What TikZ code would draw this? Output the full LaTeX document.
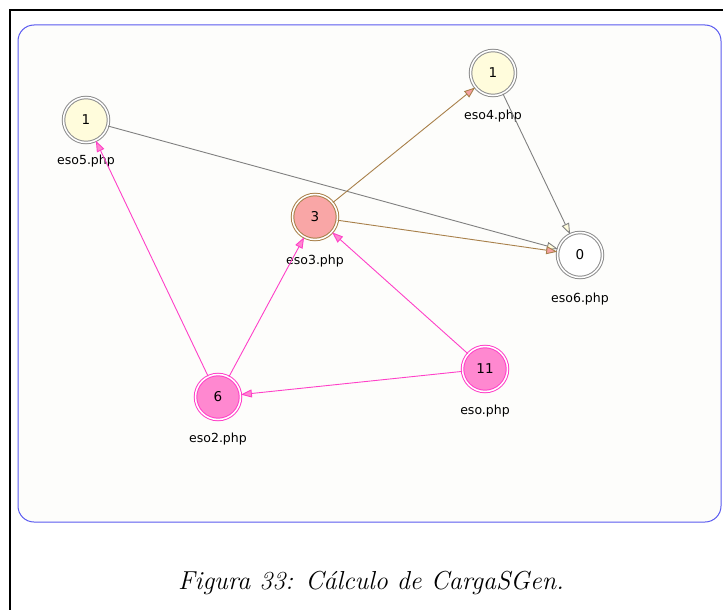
\documentclass[tikz,border=0pt]{standalone}
\usepackage{fontspec}
\newfontfamily\nodefont{DejaVu Sans}
\usetikzlibrary{arrows.meta}
\definecolor{framebl}{HTML}{5A5AF0}
\definecolor{bgpaper}{HTML}{FDFDFB}
\definecolor{yfill}{HTML}{FFFCDC}
\definecolor{gline}{HTML}{808080}
\definecolor{bline}{HTML}{A8804A}
\definecolor{mline}{HTML}{FF40C8}
\definecolor{pfill}{HTML}{F9A6A6}
\definecolor{mfill}{HTML}{FF88D0}
\definecolor{afill}{HTML}{F4A0A0}
\tikzset{
  x=1pt, y=-1pt,
  vtx/.style={circle, minimum size=45pt, inner sep=0pt, line width=1pt,
    double distance=1.5pt, font=\nodefont\fontsize{13.5}{15}\selectfont},
  yv/.style={vtx, draw=gline!90, double=white, fill=yfill},
  wv/.style={vtx, draw=gline!90, double=white, fill=white},
  pv/.style={vtx, draw=bline, double=white, fill=pfill},
  mv/.style={vtx, draw=mline, double=white, fill=mfill},
  lbl/.style={font=\nodefont\fontsize{12.5}{14}\selectfont},
  gedge/.style={draw=gline, line width=0.9pt, -{Triangle[length=11pt,width=8pt,fill=yfill]}},
  bedge/.style={draw=bline, line width=0.9pt, -{Triangle[length=11pt,width=8pt,fill=afill]}},
  medge/.style={draw=mline, line width=0.9pt, -{Triangle[length=11pt,width=8pt,fill=mfill]}},
}
\begin{document}
\begin{tikzpicture}
\useasboundingbox (0,0) rectangle (723,610);
\fill[white] (0,0) rectangle (723,610);
\draw[black, line width=2pt] (10,612) -- (10,10) -- (725,10);
\draw[framebl, line width=1pt, fill=bgpaper, rounded corners=16pt] (18,25) rectangle (721,522);

\node[yv] (eso5) at (86,120) {1};
\node[yv] (eso4) at (493,73) {1};
\node[pv] (eso3) at (315,217) {3};
\node[wv] (eso6) at (580,255) {0};
\node[mv] (eso2) at (218,397) {6};
\node[mv] (eso) at (485,369) {11};

\node[lbl] (l5) at (86,161) {eso5.php};
\node[lbl] (l4) at (493,116) {eso4.php};
\node[lbl] (l3) at (315,261) {eso3.php};
\node[lbl] (l6) at (580,299) {eso6.php};
\node[lbl] (l2) at (218,439) {eso2.php};
\node[lbl] (l0) at (485,411) {eso.php};

\draw[gedge] (eso5) -- (eso6);
\draw[gedge] (eso4) -- (eso6);
\draw[bedge] (eso3) -- (eso4);
\draw[bedge] (eso3) -- (eso6);
\draw[medge] (eso2) -- (eso5);
\draw[medge] (eso2) -- (eso3);
\draw[medge] (eso) -- (eso3);
\draw[medge] (eso) -- (eso2);

\node[font=\itshape\fontsize{26}{30}\selectfont] (cap) at (371,583) {Figura 33: Cálculo de CargaSGen.};
\end{tikzpicture}
\end{document}
